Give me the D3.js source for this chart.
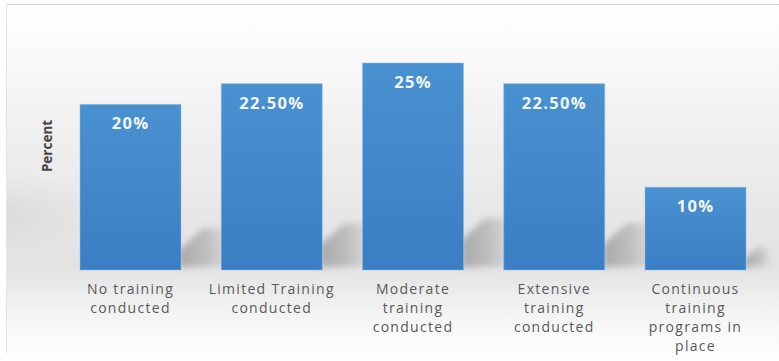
<!DOCTYPE html>
<html>
<head>
<meta charset="utf-8">
<script src="https://cdn.jsdelivr.net/npm/d3@7/dist/d3.min.js"></script>
<style>
  html, body { margin: 0; padding: 0; background: #ffffff; }
  svg { display: block; }
</style>
</head>
<body>
<svg id="chart" width="779" height="361"></svg>
<script>
// Training levels and the share of respondents for each
const categories = [
  ["No training", "conducted"],
  ["Limited Training", "conducted"],
  ["Moderate", "training", "conducted"],
  ["Extensive", "training", "conducted"],
  ["Continuous", "training", "programs in", "place"]
];
const values = [20, 22.5, 25, 22.5, 10];
const valueLabels = ["20%", "22.50%", "25%", "22.50%", "10%"];
const axisTitle = "Percent";

const W = 779, H = 361;
const svg = d3.select("#chart");
const defs = svg.append("defs");

// Panel background: white at top fading into a soft grey floor, then white again
const bg = defs.append("linearGradient").attr("id", "bgGrad")
  .attr("x1", 0).attr("y1", 0).attr("x2", 0).attr("y2", 1);
[[0, "#ffffff"], [0.12, "#fbfbfb"], [0.3, "#f2f2f2"], [0.55, "#e9e9e9"],
 [0.75, "#e2e2e2"], [0.84, "#eeeeee"], [0.93, "#f8f8f8"], [1, "#fdfdfd"]]
  .forEach(([o, c]) => bg.append("stop").attr("offset", o).attr("stop-color", c));

// Slight darkening toward the left edge, mostly in the middle band
const side = defs.append("radialGradient").attr("id", "sideGrad")
  .attr("cx", 0).attr("cy", 0.6).attr("r", 0.12);
side.append("stop").attr("offset", 0).attr("stop-color", "#000").attr("stop-opacity", 0.05);
side.append("stop").attr("offset", 1).attr("stop-color", "#000").attr("stop-opacity", 0.0);

const barGrad = defs.append("linearGradient").attr("id", "barGrad")
  .attr("x1", 0).attr("y1", 0).attr("x2", 0).attr("y2", 1);
barGrad.append("stop").attr("offset", 0).attr("stop-color", "#4a91d1");
barGrad.append("stop").attr("offset", 1).attr("stop-color", "#3a7ec3");

const shadowGrad = defs.append("linearGradient").attr("id", "shadowGrad")
  .attr("x1", 0).attr("y1", 0).attr("x2", 1).attr("y2", 0);
shadowGrad.append("stop").attr("offset", 0).attr("stop-color", "#8e8e8e").attr("stop-opacity", 0.7);
shadowGrad.append("stop").attr("offset", 0.6).attr("stop-color", "#9a9a9a").attr("stop-opacity", 0.5);
shadowGrad.append("stop").attr("offset", 1).attr("stop-color", "#a8a8a8").attr("stop-opacity", 0.25);

defs.append("filter").attr("id", "soft").attr("x", "-30%").attr("y", "-30%")
  .attr("width", "160%").attr("height", "160%")
  .append("feGaussianBlur").attr("stdDeviation", 3);

// Panel
svg.append("rect").attr("x", 6).attr("y", 4).attr("width", W - 6).attr("height", 349)
  .attr("fill", "url(#bgGrad)");
svg.append("rect").attr("x", 6).attr("y", 4).attr("width", W - 6).attr("height", 349)
  .attr("fill", "url(#sideGrad)");
svg.append("line").attr("x1", 6).attr("x2", W).attr("y1", 4.5).attr("y2", 4.5)
  .attr("stroke", "#d4d4d4").attr("stroke-width", 1);
svg.append("line").attr("x1", 6.5).attr("x2", 6.5).attr("y1", 4).attr("y2", 353)
  .attr("stroke", "#e4e4e4").attr("stroke-width", 1);

// Scales
const x = d3.scaleBand()
  .domain(d3.range(values.length))
  .range([59.875, 766.125])
  .paddingInner(0.285)
  .paddingOuter(0.1425);
const y = d3.scaleLinear().domain([0, 25]).range([270, 63]);
const gap = x.step() - x.bandwidth();

// Floor shadows cast to the right of each bar
svg.append("g").selectAll("path").data(values).join("path")
  .attr("filter", "url(#soft)")
  .attr("fill", "url(#shadowGrad)")
  .attr("d", (d, i) => {
    const xr = x(i) + x.bandwidth();
    const w = i < values.length - 1 ? gap + 4 : 22;
    const h = (y(0) - y(d)) * 0.24;
    const top = y(0) - 2 - h;
    const k = Math.min(22, w * 0.5);
    return `M${xr - 2},${y(0) - 3} L${xr - 2},${top + k} L${xr + k},${top} L${xr + w},${top} L${xr + w},${y(0) - 4} Z`;
  });

// Bars
svg.append("g").selectAll("rect").data(values).join("rect")
  .attr("x", (d, i) => x(i))
  .attr("y", d => y(d))
  .attr("width", x.bandwidth())
  .attr("height", d => y(0) - y(d))
  .attr("fill", "url(#barGrad)")
  .attr("stroke", "#8bbbe6")
  .attr("stroke-opacity", 0.5)
  .attr("stroke-width", 1);

// Value labels inside the bars
svg.append("g").selectAll("text").data(values).join("text")
  .attr("x", (d, i) => x(i) + x.bandwidth() / 2)
  .attr("y", d => y(d) + 25)
  .attr("text-anchor", "middle")
  .attr("font-family", "'Open Sans', sans-serif")
  .attr("font-weight", "bold")
  .attr("font-size", 16.5)
  .attr("letter-spacing", 1.3)
  .attr("fill", "#f2f6fb")
  .text((d, i) => valueLabels[i]);

// Category labels below the baseline
const cat = svg.append("g").selectAll("text").data(categories).join("text")
  .attr("x", (d, i) => x(i) + x.bandwidth() / 2)
  .attr("y", 294)
  .attr("text-anchor", "middle")
  .attr("font-family", "'Open Sans', sans-serif")
  .attr("font-size", 14)
  .attr("letter-spacing", 1.3)
  .attr("fill", "#5a5a5a");
cat.selectAll("tspan").data(d => d).join("tspan")
  .attr("x", function () { return this.parentNode.getAttribute("x"); })
  .attr("dy", (d, j) => j === 0 ? 0 : 19)
  .text(d => d);

// Axis title
svg.append("text")
  .attr("transform", "translate(52,146) rotate(-90)")
  .attr("text-anchor", "middle")
  .attr("font-family", "'Open Sans', sans-serif")
  .attr("font-weight", "bold")
  .attr("font-size", 13.5)
  .attr("fill", "#454545")
  .text(axisTitle);
</script>
</body>
</html>
